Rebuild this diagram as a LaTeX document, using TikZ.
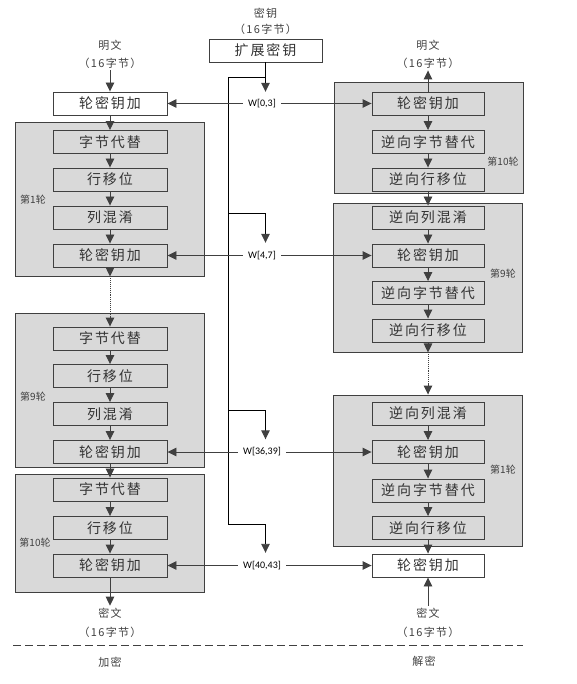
\documentclass[tikz,border=0pt]{standalone}
\usepackage{fontspec}
\setmainfont{Noto Sans CJK SC}
\newfontfamily\boxfont[LetterSpace=14]{Noto Sans CJK SC}
\newfontfamily\lblfont[LetterSpace=12]{Noto Sans CJK SC}
\newfontfamily\wfont{Carlito}
\usetikzlibrary{arrows.meta,calc}
\definecolor{ln}{HTML}{404040}
\definecolor{gf}{HTML}{D9D9D9}
\definecolor{tx}{HTML}{333333}
\begin{document}
\begin{tikzpicture}[x=1pt,y=-1pt,
  stepbox/.style={draw=ln, line width=0.9pt, minimum height=23pt, inner sep=0pt,
    font=\boxfont\fontsize{14}{16}\selectfont, text=tx},
  lbox/.style={stepbox, minimum width=114pt},
  rbox/.style={stepbox, minimum width=112pt},
  roundbox/.style={draw=ln, line width=0.9pt, fill=gf, minimum width=189pt, inner sep=0pt},
  lbl/.style={font=\lblfont\fontsize{11}{12}\selectfont, text=ln, inner sep=2pt},
  rnd/.style={font=\fontsize{10}{11}\selectfont, text=ln, inner sep=0pt},
  wl/.style={font=\wfont\fontsize{10}{11}\selectfont, text=black, inner xsep=5pt, inner ysep=0pt},
  arr/.style={draw=ln, line width=0.9pt, -{Triangle[length=9pt,width=8.5pt]}},
  dotline/.style={draw=ln, line width=0.9pt, densely dotted},
  bus/.style={draw=black, line width=0.9pt},
  busarr/.style={draw=black, line width=0.9pt, -{Triangle[length=9pt,width=8.5pt,color=ln]}},
]
\useasboundingbox (0,0) rectangle (576,684);

% ---------- round backgrounds ----------
\node[roundbox, minimum height=154pt] (G1) at (109.5,199) {};
\node[roundbox, minimum height=154pt] (G9) at (109.5,390) {};
\node[roundbox, minimum height=118pt] (G10) at (109.5,533) {};
\node[roundbox, minimum height=111pt] (H10) at (428.5,137.5) {};
\node[roundbox, minimum height=149pt] (H9) at (427.5,277.5) {};
\node[roundbox, minimum height=151pt] (H1) at (427.5,470.5) {};

\node[rnd] (g1l) at (33,200) {第1轮};
\node[rnd] (g9l) at (33,397) {第9轮};
\node[rnd] (g10l) at (35,543) {第10轮};
\node[rnd] (h10l) at (503,162) {第10轮};
\node[rnd] (h9l) at (503,274) {第9轮};
\node[rnd] (h1l) at (503,470) {第1轮};

% ---------- key ----------
\node[lbl] (k1) at (265.5,13) {密钥};
\node[lbl] (k2) at (265.5,29) {（16字节）};
\node[stepbox, minimum width=113pt] (K) at (265.5,50.5) {扩展密钥};

% ---------- encryption (left) ----------
\node[lbl] (lin1) at (110,45) {明文};
\node[lbl] (lin2) at (110,63) {（16字节）};
\node[lbox] (L0) at (110,103.5) {轮密钥加};
\node[lbox] (L1a) at (110,142) {字节代替};
\node[lbox] (L1b) at (110,179.5) {行移位};
\node[lbox] (L1c) at (110,217.5) {列混淆};
\node[lbox] (L1d) at (110,255.5) {轮密钥加};
\node[lbox] (L9a) at (110,338.5) {字节代替};
\node[lbox] (L9b) at (110,376) {行移位};
\node[lbox] (L9c) at (110,414) {列混淆};
\node[lbox] (L9d) at (110,452) {轮密钥加};
\node[lbox] (L10a) at (110,489.5) {字节代替};
\node[lbox] (L10b) at (110,528) {行移位};
\node[lbox] (L10c) at (110,565.5) {轮密钥加};
\node[lbl] (lout1) at (110,613) {密文};
\node[lbl] (lout2) at (110,632) {（16字节）};
\node[lbl] (enc) at (110,662) {加密};

% ---------- decryption (right) ----------
\node[lbl] (rin1) at (428,45) {明文};
\node[lbl] (rin2) at (428,63) {（16字节）};
\node[rbox] (R10a) at (428,103.5) {轮密钥加};
\node[rbox] (R10b) at (428,142) {逆向字节替代};
\node[rbox] (R10c) at (428,179.5) {逆向行移位};
\node[rbox] (R9a) at (428,217.5) {逆向列混淆};
\node[rbox] (R9b) at (428,255.5) {轮密钥加};
\node[rbox] (R9c) at (428,293) {逆向字节替代};
\node[rbox] (R9d) at (428,330.5) {逆向行移位};
\node[rbox] (R1a) at (428,413.5) {逆向列混淆};
\node[rbox] (R1b) at (428,452) {轮密钥加};
\node[rbox] (R1c) at (428,490.5) {逆向字节替代};
\node[rbox] (R1d) at (428,528) {逆向行移位};
\node[rbox] (Rf) at (428,565.5) {轮密钥加};
\node[lbl] (rout1) at (428,613) {密文};
\node[lbl] (rout2) at (428,632) {（16字节）};
\node[lbl] (dec) at (424,661) {解密};

% ---------- round keys ----------
\node[wl, minimum height=23pt] (W0) at (262,103.5) {W[0,3]};
\node[wl, minimum height=25pt] (W4) at (262,255.5) {W[4,7]};
\node[wl, minimum height=25pt] (W36) at (262,452) {W[36,39]};
\node[wl, minimum height=25pt] (W40) at (262,565.5) {W[40,43]};

% key bus
\coordinate (B0) at (228,77);
\coordinate (B4) at (228,213);
\coordinate (B36) at (228,410);
\coordinate (B40) at (228,524);
\draw[busarr] (K.south) -- (K.south |- W0.north);
\draw[bus] (K.south |- B0) -- (B0) -- (B40);
\draw[busarr] (B4) -| (K.south |- W4.north);
\draw[busarr] (B36) -| (K.south |- W36.north);
\draw[busarr] (B40) -| (K.south |- W40.north);

% key additions
\draw[arr] (W0.west) -- (L0.east);
\draw[arr] (W0.east) -- (R10a.west);
\draw[arr] (W4.west) -- (L1d.east);
\draw[arr] (W4.east) -- (R9b.west);
\draw[arr] (W36.west) -- (L9d.east);
\draw[arr] (W36.east) -- (R1b.west);
\draw[arr] (W40.west) -- (L10c.east);
\draw[arr] (W40.east) -- (Rf.west);

% encryption flow
\coordinate (D1) at (L1d.south |- G1.south);
\coordinate (D2) at ($(L9a.north)+(0,-11)$);
\draw[arr] (lin2.south) -- (L0.north);
\draw[arr] (L0) -- (L1a);
\draw[arr] (L1a) -- (L1b);
\draw[arr] (L1b) -- (L1c);
\draw[arr] (L1c) -- (L1d);
\draw[arr] (L1d.south) -- (D1);
\draw[dotline] (D1) -- (D2);
\draw[arr] (D2) -- (L9a.north);
\draw[arr] (L9a) -- (L9b);
\draw[arr] (L9b) -- (L9c);
\draw[arr] (L9c) -- (L9d);
\draw[arr] (L9d) -- (L10a);
\draw[arr] (L10a) -- (L10b);
\draw[arr] (L10b) -- (L10c);
\draw[arr] (L10c.south) -- (lout1.north);

% decryption flow
\coordinate (E1) at (R9d.south |- H9.south);
\coordinate (E3) at (R9d.south |- H1.north);
\coordinate (E2) at ($(E3)+(0,-11)$);
\draw[arr] (R10a.north) -- (rin2.south);
\draw[arr] (R10a) -- (R10b);
\draw[arr] (R10b) -- (R10c);
\draw[arr] (R10c) -- (R9a);
\draw[arr] (R9a) -- (R9b);
\draw[arr] (R9b) -- (R9c);
\draw[arr] (R9c) -- (R9d);
\draw[arr] (R9d.south) -- (E1);
\draw[dotline] (E1) -- (E2);
\draw[arr] (E2) -- (E3);
\draw[arr] (R1a) -- (R1b);
\draw[arr] (R1b) -- (R1c);
\draw[arr] (R1c) -- (R1d);
\draw[arr] (R1d) -- (Rf);
\draw[arr] (rout1.north) -- (Rf.south);

% separator
\draw[draw=ln, line width=0.9pt, dash pattern=on 8pt off 4pt] (13,645) -- (523,645);
\end{tikzpicture}
\end{document}
